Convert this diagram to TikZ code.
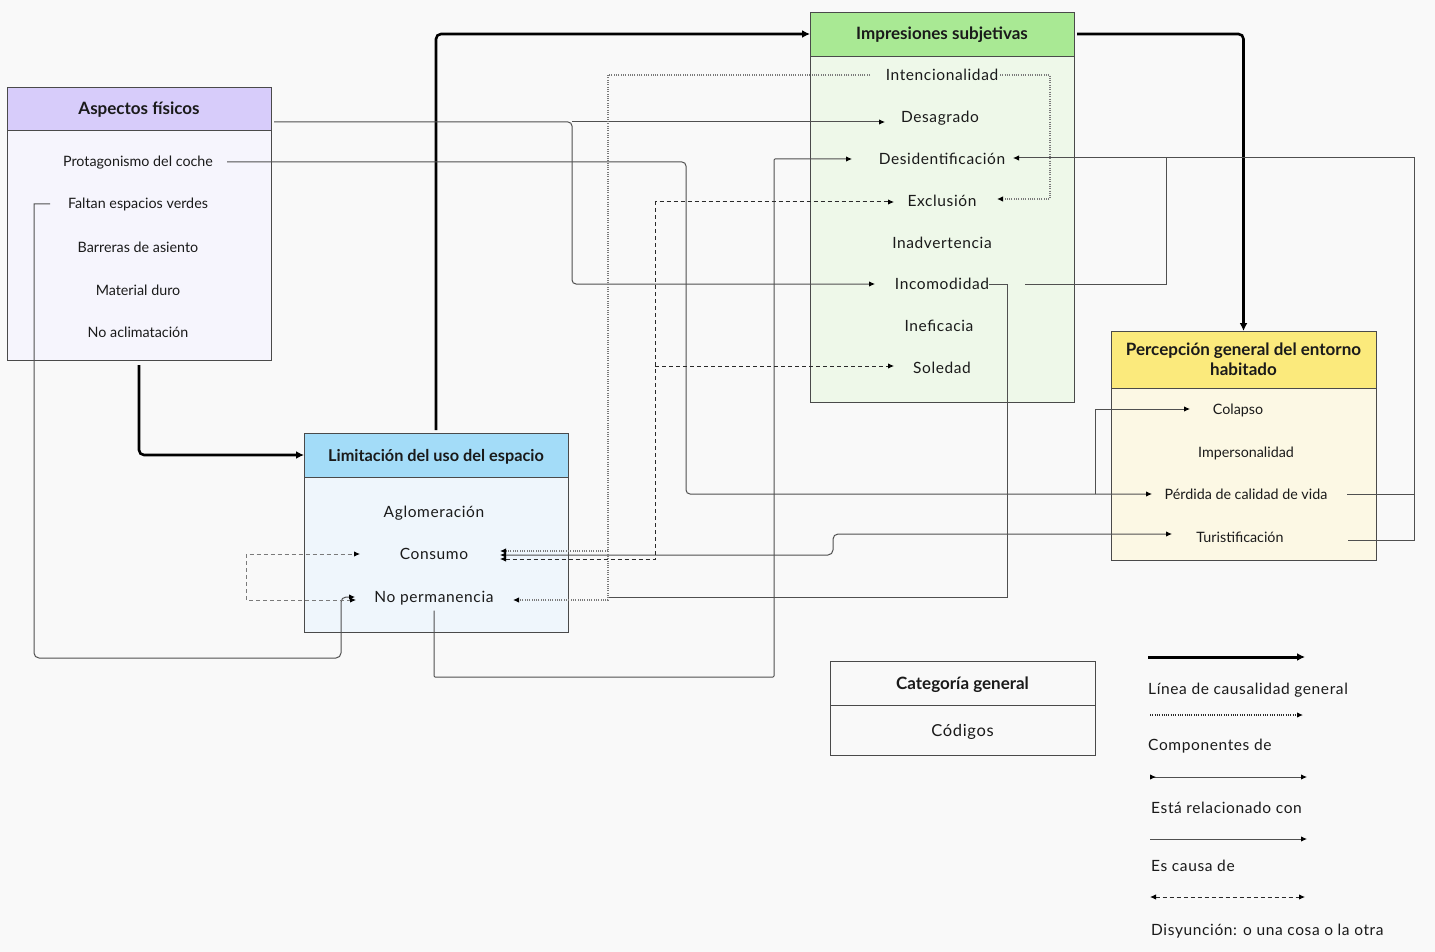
\documentclass[tikz,border=0pt]{standalone}
\usepackage{fontspec}
\setmainfont{Lato}
\newfontfamily\spaced[LetterSpace=4]{Lato}
\usetikzlibrary{arrows.meta}
\definecolor{bgc}{HTML}{F9F9F9}
\definecolor{bordc}{HTML}{4A4A4A}
\definecolor{txt}{HTML}{1A1A1A}
\definecolor{relc}{HTML}{505050}
\definecolor{compc}{HTML}{7A7A7A}
\definecolor{disjc}{HTML}{2A2A2A}
\definecolor{lavh}{HTML}{D7CCFA}
\definecolor{lavb}{HTML}{F6F5FD}
\definecolor{blueh}{HTML}{A3DCF8}
\definecolor{blueb}{HTML}{EFF6FC}
\definecolor{greenh}{HTML}{A9E994}
\definecolor{greenb}{HTML}{EEF8E9}
\definecolor{yelh}{HTML}{FBEA7C}
\definecolor{yelb}{HTML}{FCF8E4}
\begin{document}
\begin{tikzpicture}[x=1pt,y=-1pt,
  box/.style={draw=bordc, line width=0.9pt, outer sep=0pt, inner sep=0pt, anchor=north west},
  hdr/.style={box, font=\bfseries\fontsize{17}{20}\selectfont, text=txt},
  hdrone/.style={hdr, text height=12pt, text depth=0pt},
  itma/.style={font=\fontsize{14.3}{16}\selectfont, text=txt, inner sep=0pt, text height=10pt, text depth=0pt},
  itmb/.style={font=\spaced\fontsize{15.5}{17}\selectfont, text=txt, inner sep=0pt, text height=11pt, text depth=0pt},
  leg/.style={font=\spaced\fontsize{15.5}{17}\selectfont, text=txt, inner sep=0pt, anchor=west, text height=11pt, text depth=0pt},
  tp/.tip={Latex[length=6pt,width=5.5pt,color=black]},
  causal/.style={line width=2.6pt, draw=black, -{Latex[length=8pt,width=8pt]}, rounded corners=5pt},
  rel/.style={line width=1pt, draw=relc, -tp, rounded corners=4pt},
  comp/.style={line width=1.1pt, draw=compc, dash pattern=on 1pt off 1.3pt, -tp},
  disj/.style={line width=1pt, draw=disjc, dash pattern=on 4pt off 3pt, tp-tp},
]
\fill[bgc] (0,0) rectangle (1435,952);
\useasboundingbox (0,0) rectangle (1435,952);

% ---- Aspectos fisicos
\node[hdrone, fill=lavh, minimum width=264pt, minimum height=43pt] (asph) at (7,87) {Aspectos físicos};
\node[box, fill=lavb, minimum width=264pt, minimum height=230pt] (aspb) at (7,130) {};
\node[itma] (prot) at (138,162) {Protagonismo del coche};
\node[itma] (falt) at (138,204) {Faltan espacios verdes};
\node[itma] (barr) at (138,247) {Barreras de asiento};
\node[itma] (mate) at (138,290) {Material duro};
\node[itma] (noacl) at (138,332) {No aclimatación};

% ---- Limitacion del uso del espacio
\node[hdrone, fill=blueh, minimum width=264pt, minimum height=44pt, font=\bfseries\fontsize{16.3}{19}\selectfont] (limh) at (304,433) {Limitación del uso del espacio};
\node[box, fill=blueb, minimum width=264pt, minimum height=155pt] (limb) at (304,477) {};
\node[itmb] (aglo) at (434,512) {Aglomeración};
\node[itmb] (cons) at (434,554) {Consumo};
\node[itmb] (noperm) at (434,597) {No permanencia};

% ---- Impresiones subjetivas
\node[hdrone, fill=greenh, minimum width=264pt, minimum height=44pt] (imph) at (810,12) {Impresiones subjetivas};
\node[box, fill=greenb, minimum width=264pt, minimum height=346pt] (impb) at (810,56) {};
\node[itmb] (inten) at (942,75) {Intencionalidad};
\node[itmb] (desag) at (940,117) {Desagrado};
\node[itmb] (desid) at (942,159) {Desidentificación};
\node[itmb] (exclu) at (942,201) {Exclusión};
\node[itmb] (inadv) at (942,243) {Inadvertencia};
\node[itmb] (incom) at (942,284) {Incomodidad};
\node[itmb] (inefi) at (939,326) {Ineficacia};
\node[itmb] (soled) at (942,368) {Soledad};

% ---- Percepcion general
\node[hdr, fill=yelh, minimum width=265pt, minimum height=57pt, align=center,
      font=\bfseries\fontsize{17}{20}\selectfont] (perh) at (1111,331) {Percepción general del entorno\\habitado};
\node[box, fill=yelb, minimum width=265pt, minimum height=172pt] (perb) at (1111,388) {};
\node[itma] (colap) at (1238,409) {Colapso};
\node[itma] (imper) at (1246,452) {Impersonalidad};
\node[itma] (perd) at (1246,494) {Pérdida de calidad de vida};
\node[itma] (turis) at (1240,537) {Turistificación};

% ---- Legend box
\node[hdrone, minimum width=265pt, minimum height=44pt] (legh) at (830,661) {Categoría general};
\node[box, minimum width=265pt, minimum height=50pt, font=\spaced\fontsize{16.5}{18}\selectfont, text=txt, text height=12pt, text depth=0pt] (legb) at (830,705) {Códigos};

% ---- General causality (thick)
\draw[causal] ([yshift=-5pt]aspb.south) |- (limh.west);
\draw[causal] ([yshift=3pt]limh.north) |- (imph.west);
\draw[causal] ([xshift=3pt]imph.east) -| (perh.north);

% ---- Es causa de (solid thin)
\coordinate (a1) at ([xshift=3pt,yshift=-13.5pt]asph.east);
\draw[rel] (a1) -| (572,0 |- incom) -- (875,0 |- incom);
\draw[rel, rounded corners=0pt] (572,0 |- a1) -- (885,0 |- a1);
\draw[rel] (227,0 |- prot) -| (686,0 |- perd) -- (1152,0 |- perd);
\draw[rel, rounded corners=0pt] (1095,0 |- perd) |- (1190,0 |- colap);
\draw[rel, rounded corners=0pt] (50,0 |- falt) -- (34,0 |- falt) [rounded corners=5pt] -- (34,658) -- (341,658) -- (341,0 |- noperm) -- (355,0 |- noperm);
\draw[rel, rounded corners=1pt] ([yshift=-8pt]noperm.south) |- (774,677) |- (852,0 |- desid);
\draw[rel, -, rounded corners=0pt] (incom.east) -| (1007,597) -- (608,597);
\draw[rel, rounded corners=0pt] (1025,0 |- incom) -| (1166,158) -- (1013,158);
\draw[rel, -, rounded corners=0pt] (1347,0 |- perd) -| (1414,158) -- (1166,158);
\draw[rel, -, rounded corners=0pt] (1348,540) -| (1414,480);
\draw[rel, tp-tp, rounded corners=5pt] (500,555) -- (833,555) -- (833,534) -- (1172,534);

% ---- Componentes de (dotted)
\draw[comp] (870,0 |- inten) -- (608,0 |- inten) -- (608,600) -- (513,600);
\draw[comp] (608,551) -- (500,551);
\draw[comp] (1000,0 |- inten) -- (1050,0 |- inten) -- (1050,199) -- (997,199);

% ---- Disyuncion (dashed)
\draw[disj] (500,559) -- (655,559) -- (655,202) -- (894,202);
\draw[disj, -tp] (655,366) -- (894,366);
\draw[disj, draw=compc] (356,600) -- (246,600) -- (246,554) -- (360,554);

% ---- Legend lines
\coordinate (l1a) at (1148,657); \coordinate (l1b) at (1305,657);
\draw[causal, line width=3pt] (l1a) -- (l1b);
\node[leg] (t1) at (1148,689) {Línea de causalidad general};
\coordinate (l2a) at (1150,715); \coordinate (l2b) at (1303,715);
\draw[comp, draw=disjc] (l2a) -- (l2b);
\node[leg] (t2) at (1148,745) {Componentes de};
\coordinate (l3a) at (1150,777); \coordinate (l3b) at (1307,777);
\draw[rel, {Latex[length=6pt,width=5.5pt,color=black,reversed]}-tp] (l3a) -- (l3b);
\node[leg] (t3) at (1151,808) {Está relacionado con};
\coordinate (l4a) at (1150,839); \coordinate (l4b) at (1307,839);
\draw[rel] (l4a) -- (l4b);
\node[leg] (t4) at (1151,866) {Es causa de};
\coordinate (l5a) at (1150,897); \coordinate (l5b) at (1305,897);
\draw[disj] (l5a) -- (l5b);
\node[leg] (t5) at (1151,930) {Disyunción: o una cosa o la otra};
\end{tikzpicture}
\end{document}
